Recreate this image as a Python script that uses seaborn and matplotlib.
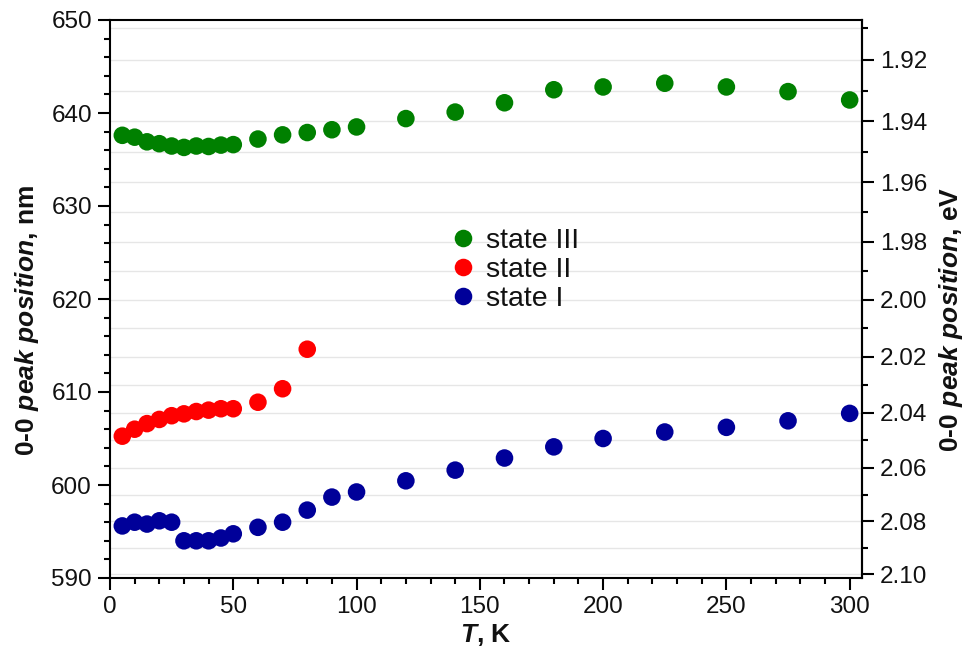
import numpy as np
import pandas as pd
import matplotlib
matplotlib.use("Agg")
import matplotlib.pyplot as plt
import seaborn as sns
from matplotlib.ticker import MultipleLocator, FixedLocator, FormatStrFormatter

# ---- data ----
T_III = [5, 10, 15, 20, 25, 30, 35, 40, 45, 50, 60, 70, 80, 90, 100,
         120, 140, 160, 180, 200, 225, 250, 275, 300]
nm_III = [637.6, 637.4, 636.9, 636.7, 636.45, 636.3, 636.45, 636.4, 636.55, 636.6,
          637.2, 637.65, 637.9, 638.2, 638.5,
          639.4, 640.1, 641.1, 642.5, 642.8, 643.2, 642.8, 642.3, 641.4]

T_II = [5, 10, 15, 20, 25, 30, 35, 40, 45, 50, 60, 70, 80]
nm_II = [605.25, 606.0, 606.6, 607.05, 607.45, 607.65, 607.9, 608.05, 608.2, 608.2,
         608.9, 610.35, 614.6]

T_I = [5, 10, 15, 20, 25, 30, 35, 40, 45, 50, 60, 70, 80, 90, 100,
       120, 140, 160, 180, 200, 225, 250, 275, 300]
nm_I = [595.6, 596.0, 595.8, 596.15, 596.0, 594.0, 594.0, 594.0, 594.3, 594.75,
        595.45, 596.0, 597.3, 598.7, 599.25,
        600.45, 601.6, 602.9, 604.1, 605.0, 605.7, 606.2, 606.9, 607.7]

labels = ["state III", "state II", "state I"]
colors = ["#008000", "#ff0000", "#000099"]

ev_ticks = [1.92, 1.94, 1.96, 1.98, 2.00, 2.02, 2.04, 2.06, 2.08, 2.10]
HC = 1239.84

df = pd.concat([
    pd.DataFrame({"T": T_III, "nm": nm_III, "state": labels[0]}),
    pd.DataFrame({"T": T_II, "nm": nm_II, "state": labels[1]}),
    pd.DataFrame({"T": T_I, "nm": nm_I, "state": labels[2]}),
])

sns.set_theme(style="white")
plt.rcParams["font.family"] = ["Liberation Sans", "DejaVu Sans"]
plt.rcParams["mathtext.fontset"] = "custom"
plt.rcParams["mathtext.it"] = "Liberation Sans:italic:bold"
plt.rcParams["mathtext.rm"] = "Liberation Sans:bold"

fig = plt.figure(figsize=(9.68, 6.49), dpi=100)
ax = fig.add_axes([110/968, 1-578/649, (862-110)/968, (578-20)/649])

# grid lines at every 0.01 eV
for e in np.arange(1.91, 2.1001, 0.01):
    ax.axhline(HC/e, color="#e6e6e6", lw=1.0, zorder=0)

sns.scatterplot(data=df, x="T", y="nm", hue="state", hue_order=labels,
                palette=dict(zip(labels, colors)), s=160, edgecolor="none",
                linewidth=0, ax=ax, zorder=3)

ax.set_xlim(0, 305)
ax.set_ylim(590, 650)
ax.xaxis.set_major_locator(MultipleLocator(50))
ax.xaxis.set_minor_locator(MultipleLocator(10))
ax.yaxis.set_major_locator(MultipleLocator(10))
ax.yaxis.set_minor_locator(MultipleLocator(2))

for sp in ax.spines.values():
    sp.set_color("black")
    sp.set_linewidth(1.5)

TICKCOL = "#111111"
ax.tick_params(axis="both", which="major", direction="out", length=8.5, width=1.5,
               labelsize=17.5, color="black", labelcolor=TICKCOL, pad=4.5)
ax.tick_params(axis="both", which="minor", direction="out", length=4, width=1.5,
               color="black")
ax.tick_params(axis="x", which="both", bottom=True, top=False)
ax.tick_params(axis="y", which="both", left=True, right=False)

ax.set_xlabel(r"$\mathit{T}$, K", fontsize=19, fontweight="bold", labelpad=3,
              color=TICKCOL)
ax.set_ylabel(r"$\mathit{0}$-$\mathit{0\ peak\ position}$, nm", fontsize=19,
              fontweight="bold", color=TICKCOL)
ax.yaxis.set_label_coords(41/968, 1-321/649, transform=fig.transFigure)

sec = ax.secondary_yaxis("right", functions=(lambda x: HC/x, lambda x: HC/x))
sec.yaxis.set_major_locator(FixedLocator(ev_ticks))
sec.yaxis.set_minor_locator(FixedLocator(np.arange(1.91, 2.1001, 0.01)))
sec.yaxis.set_major_formatter(FormatStrFormatter("%.2f"))
sec.spines["right"].set_linewidth(1.5)
sec.spines["right"].set_color("black")
sec.tick_params(axis="y", which="major", direction="out", length=8.5, width=1.5,
                labelsize=17.5, color="black", labelcolor=TICKCOL, pad=4.5)
sec.tick_params(axis="y", which="minor", direction="out", length=4, width=1.5,
                color="black")
sec.set_ylabel(r"$\mathit{0}$-$\mathit{0\ peak\ position}$, eV", fontsize=19,
               fontweight="bold", color=TICKCOL)
sec.yaxis.set_label_coords(937/968, 1-319/649, transform=fig.transFigure)

leg = ax.legend(loc="center left", bbox_to_anchor=((452-110)/752, 1-(270-20)/558),
                frameon=False, fontsize=20.5, handlelength=0.75, handletextpad=0.45,
                labelspacing=0.12, borderpad=0, borderaxespad=0, title=None)
for t in leg.get_texts():
    t.set_color(TICKCOL)

fig.savefig("out.png", dpi=100)
